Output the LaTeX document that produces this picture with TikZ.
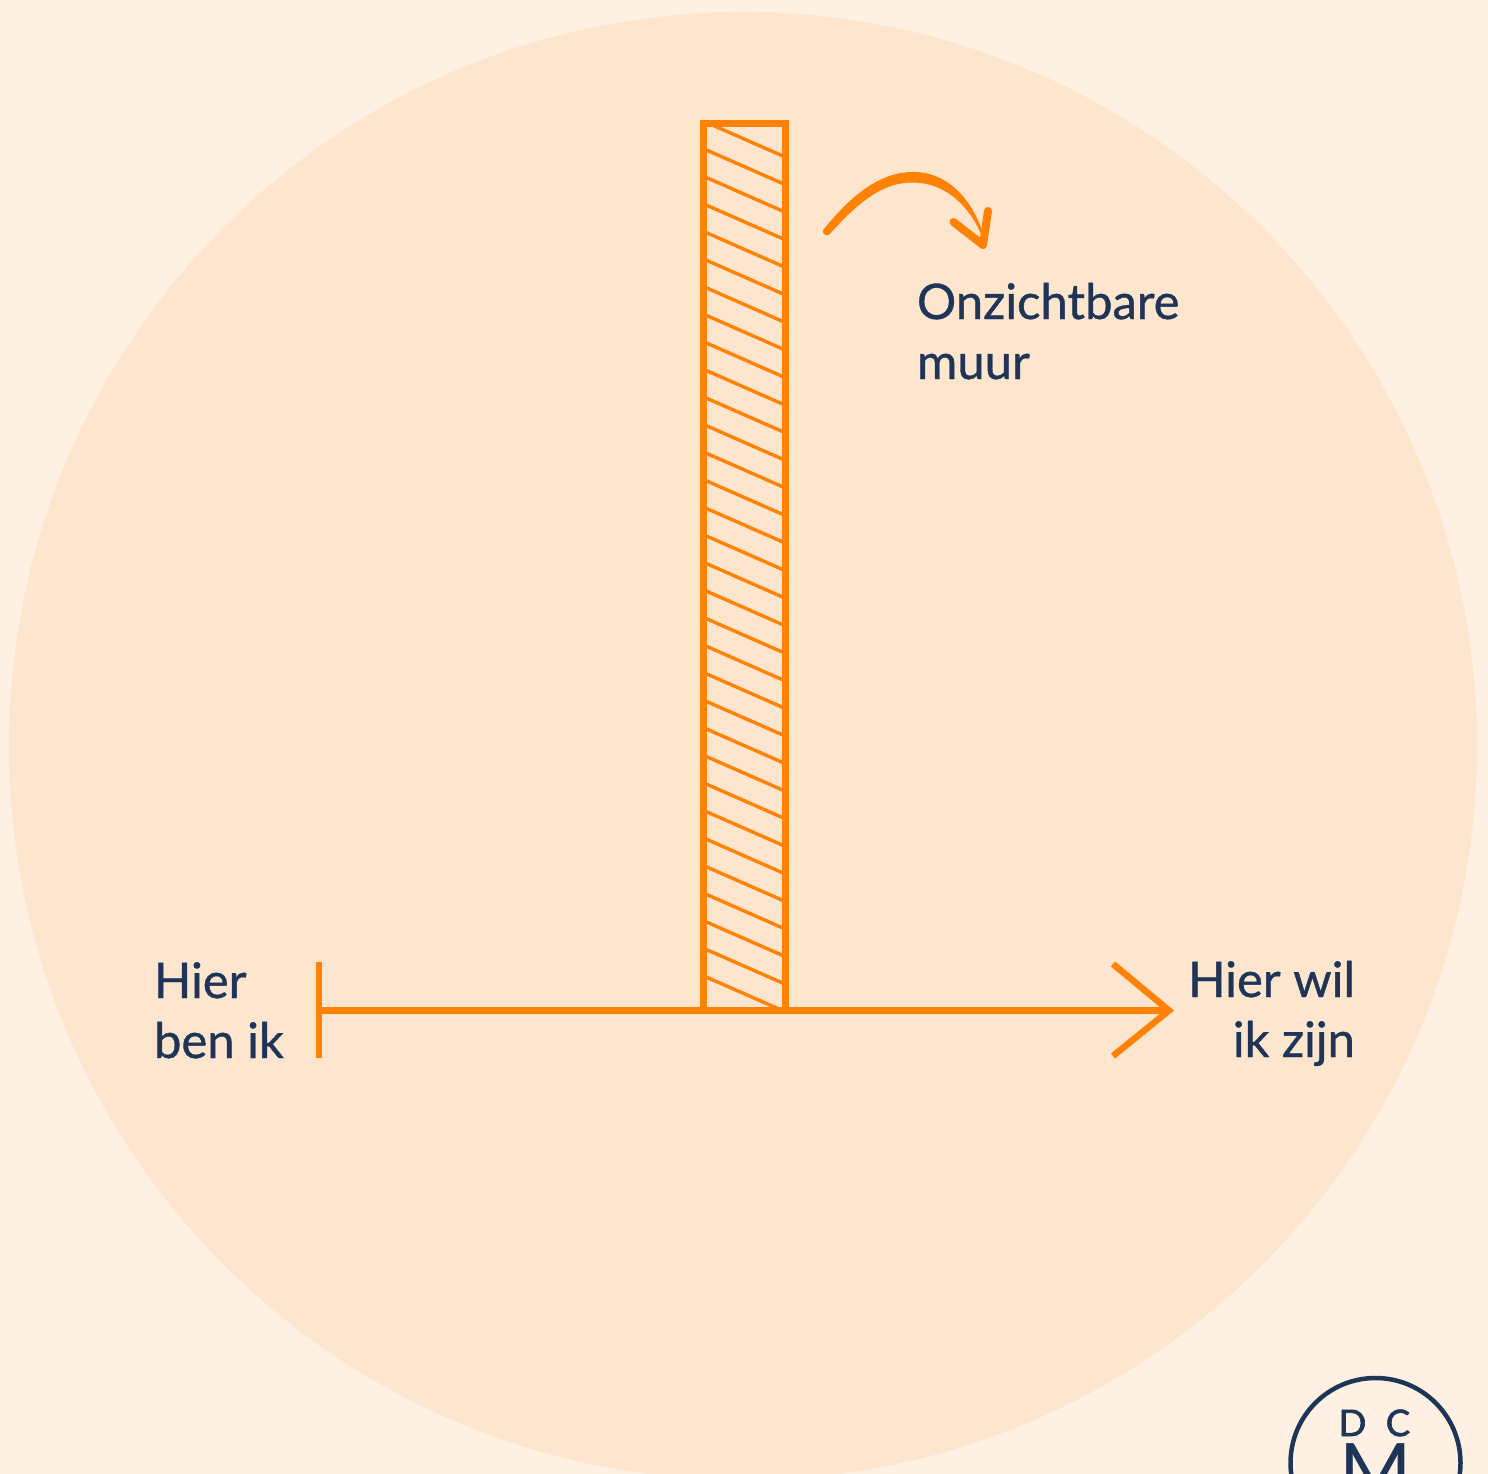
\documentclass[tikz,border=0pt]{standalone}
\usepackage{fontspec}
\setmainfont{Lato}
\definecolor{bgc}{HTML}{FEF1E3}
\definecolor{disc}{HTML}{FEE5CD}
\definecolor{org}{HTML}{FF8205}
\definecolor{navy}{HTML}{1F3557}
\tikzset{
  label text/.style={text=navy,font=\fontsize{49}{60}\selectfont\addfontfeature{FakeBold=0.8},inner sep=0pt,outer sep=0pt},
  logo letter/.style={text=navy,anchor=base,inner sep=0pt,outer sep=0pt},
  axis line/.style={draw=org,line width=6.5pt},
  hatch line/.style={draw=org,line width=3.4pt},
  wall/.style={draw=org,line width=6.6pt,miter limit=10},
}
\begin{document}
\begin{tikzpicture}[x=1pt,y=-1pt]
\useasboundingbox (0,0) rectangle (1488,1474);
\clip (0,0) rectangle (1488,1474);
\fill[bgc] (0,0) rectangle (1488,1474);
\fill[disc] (743,746) circle[radius=734];
% wall hatching
\begin{scope}
\clip (703.5,123.5) rectangle (785.5,1010);
\foreach \k in {-1,...,30}{
  \draw[hatch line] (703,{150+27.57*\k-1.5}) -- (786,{150+27.57*\k+35});
}
\end{scope}
\coordinate (wallTL) at (703.5,123.5);
\coordinate (wallBR) at (785.5,1010);
\draw[wall] (wallTL) rectangle (wallBR);
% axis
\coordinate (axisStart) at (319,1010.5);
\coordinate (axisEnd) at (1169,1010.5);
\coordinate (barTop) at (319,962);
\coordinate (barBot) at (319,1058);
\coordinate (headTop) at (1113,964);
\coordinate (headBot) at (1113,1056);
\draw[axis line] (axisStart) -- (axisEnd);
\draw[axis line] (barTop) -- (barBot);
\draw[axis line,line join=miter] (headTop) -- (axisEnd) -- (headBot);
% curved arrow
\fill[org,draw=org,line width=1pt,line join=round]
  (823.5,230.5) .. controls (851,196) and (880,172.5) .. (913,172.5)
  .. controls (951,172.5) and (976,205) .. (986,245)
  .. controls (973,208) and (948,182.5) .. (913,182)
  .. controls (882,181.5) and (857,203) .. (829,234)
  .. controls (827,236.5) and (822.5,233) .. (823.5,230.5) -- cycle;
\draw[org,line width=8pt,line cap=round,line join=round] (953.5,222) -- (983,245) -- (988,211);
% labels
\node[label text,anchor=base west,align=left] (wallLabel) at (917,379) {Onzichtbare\\muur};
\node[label text,anchor=base west,align=left] (here) at (154,1058) {Hier\\ben ik};
\node[label text,anchor=base east,align=right] (there) at (1355,1057) {Hier wil\\ik zijn};
% logo
\draw[navy,line width=4.5pt] (1375.5,1463) circle[radius=85];
\node[logo letter,font=\fontsize{36.5}{36}\selectfont\addfontfeature{FakeBold=1.8}] (logoD) at (1352.5,1436) {D};
\node[logo letter,font=\fontsize{36.5}{36}\selectfont\addfontfeature{FakeBold=1.8}] (logoC) at (1398,1436) {C};
\node[logo letter,font=\fontsize{78}{78}\selectfont] (logoM) at (1375.5,1499) {M};
\end{tikzpicture}
\end{document}
